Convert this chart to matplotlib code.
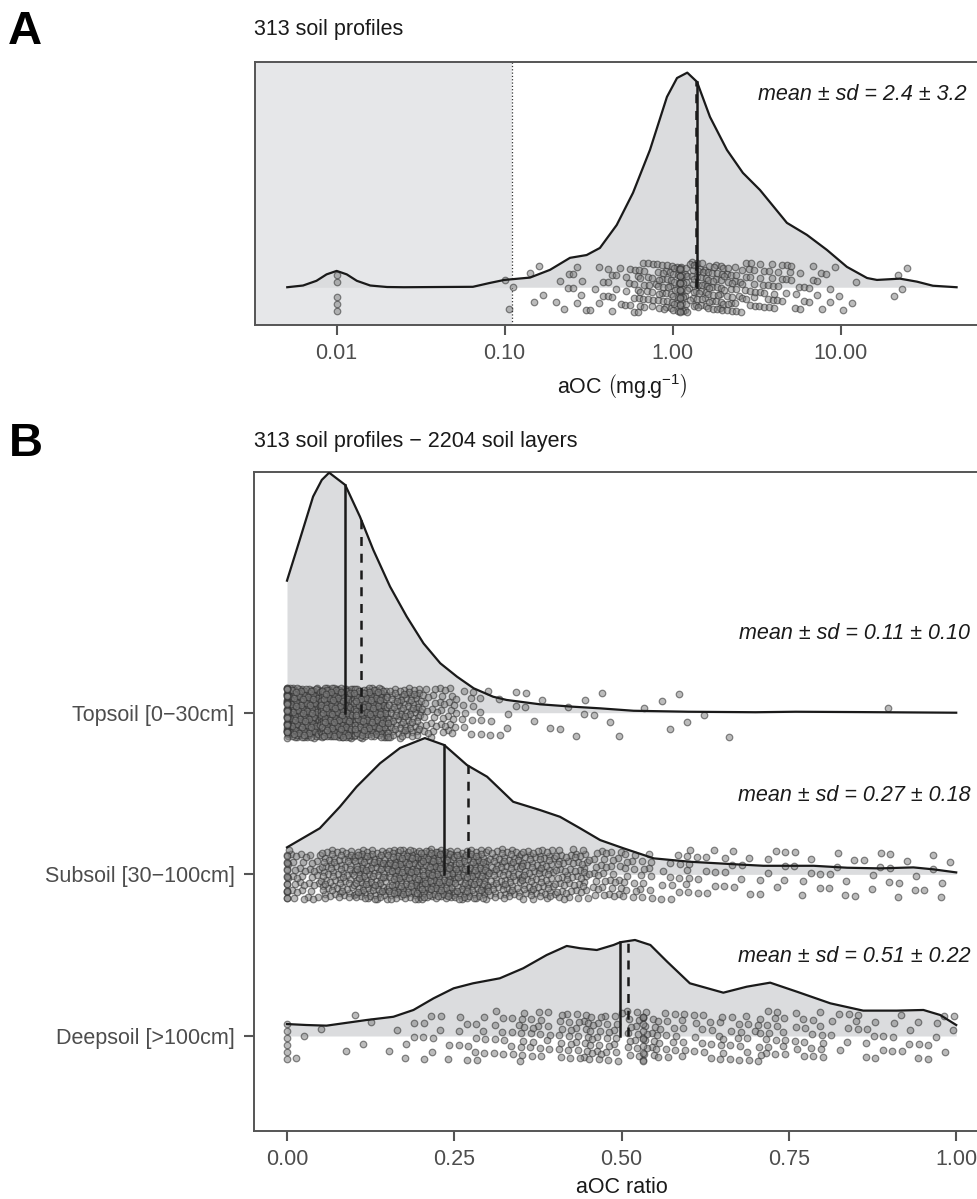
import matplotlib
matplotlib.use("Agg")
import matplotlib.pyplot as plt
import numpy as np

plt.rcParams['font.family'] = ['Liberation Sans', 'DejaVu Sans']
plt.rcParams['mathtext.fontset'] = 'custom'
plt.rcParams['mathtext.rm'] = 'Liberation Sans'
plt.rcParams['mathtext.it'] = 'Liberation Sans:italic'

# ---- panel A : aOC (log10 scale) ----
a_curve_logx = [-2.294, -2.2, -2.12, -2.06, -2.0, -1.94, -1.88, -1.8, -1.7, -1.6,
                -1.189, -1.088, -1.002, -0.849, -0.730, -0.611, -0.512, -0.433,
                -0.333, -0.236, -0.135, -0.034, 0.026, 0.087, 0.145, 0.222, 0.323,
                0.418, 0.520, 0.680, 0.799, 0.918, 1.037, 1.157, 1.216, 1.353,
                1.454, 1.549, 1.690]
a_curve_dens = [0.0, 0.008, 0.03, 0.06, 0.076, 0.06, 0.03, 0.008, 0.001, 0.0,
                0.002, 0.02, 0.034, 0.045, 0.081, 0.137, 0.150, 0.183,
                0.29, 0.44, 0.64, 0.887, 0.975, 1.0, 0.957, 0.794, 0.64,
                0.533, 0.453, 0.30, 0.244, 0.174, 0.095, 0.043, 0.034, 0.040,
                0.026, 0.007, 0.0]
a_bin_start = -1.0      # log10 of first bin edge
a_bin_width = 0.1
a_counts = [3, 2, 2, 5, 7, 6, 10, 14, 20, 28, 34, 34, 30, 24, 18, 16, 12, 9, 8, 5,
            3, 0, 0, 4]
a_ties = [0.01, 1.1]
a_tie_counts = [5, 14]
a_median = 1.39
a_center = 1.37
a_threshold = 0.11
a_label = 'mean ± sd = 2.4 ± 3.2'

# ---- panel B : aOC ratio per depth ----
groups = ['Deepsoil [>100cm]', 'Subsoil [30\u2212100cm]', 'Topsoil [0\u221230cm]']

top_x = [0.000, 0.019, 0.039, 0.052, 0.063, 0.087, 0.109, 0.129, 0.154, 0.179, 0.204,
         0.229, 0.254, 0.279, 0.308, 0.328, 0.378, 0.428, 0.468, 0.518, 0.600,
         0.700, 0.760, 0.850, 1.000]
top_h = [0.817, 1.069, 1.337, 1.44, 1.485, 1.409, 1.213, 1.007, 0.780, 0.594, 0.429,
         0.306, 0.223, 0.151, 0.099, 0.079, 0.052, 0.037, 0.027, 0.012, 0.006,
         0.003, 0.006, 0.004, 0.0]
sub_x = [0.000, 0.049, 0.079, 0.104, 0.139, 0.169, 0.206, 0.235, 0.269, 0.299, 0.338,
         0.378, 0.408, 0.438, 0.468, 0.503, 0.548, 0.602, 0.662, 0.712, 0.787,
         0.837, 0.886, 0.936, 0.966, 1.000]
sub_h = [0.167, 0.285, 0.418, 0.542, 0.687, 0.782, 0.843, 0.800, 0.676, 0.604, 0.449,
         0.398, 0.356, 0.285, 0.212, 0.161, 0.099, 0.078, 0.064, 0.053, 0.053,
         0.041, 0.037, 0.043, 0.031, 0.012]
deep_x = [0.000, 0.029, 0.059, 0.119, 0.159, 0.189, 0.219, 0.249, 0.278, 0.318, 0.353,
          0.388, 0.418, 0.438, 0.463, 0.488, 0.498, 0.520, 0.543, 0.568, 0.602,
          0.652, 0.687, 0.722, 0.762, 0.812, 0.861, 0.911, 0.951, 0.976, 1.000]
deep_h = [0.074, 0.068, 0.064, 0.099, 0.119, 0.161, 0.233, 0.295, 0.326, 0.357, 0.419,
          0.501, 0.557, 0.543, 0.532, 0.563, 0.580, 0.594, 0.563, 0.460, 0.326,
          0.268, 0.305, 0.330, 0.274, 0.202, 0.157, 0.157, 0.161, 0.130, 0.068]

b_bin_width = 0.05
top_counts = [263, 290, 180, 95, 40, 18, 8, 5, 5, 4, 1, 4, 1, 1, 0, 0, 0, 1, 0, 0]
sub_counts = [40, 70, 100, 120, 130, 110, 75, 70, 55, 35, 25, 15, 12, 10, 9, 8, 8, 6, 7, 6]
deep_counts = [2, 2, 3, 6, 10, 14, 16, 22, 28, 30, 28, 22, 16, 18, 22, 16, 10, 10, 10, 8]
top_ties, top_tie_counts = [0.0], [30]
sub_ties, sub_tie_counts = [0.0], [14]
deep_ties, deep_tie_counts = [0.0, 0.532], [6, 10]

medians = [0.498, 0.235, 0.087]
means = [0.51, 0.27, 0.11]
b_labels = ['mean ± sd = 0.51 ± 0.22', 'mean ± sd = 0.27 ± 0.18', 'mean ± sd = 0.11 ± 0.10']

FILL = '#dbdcde'
LINE = '#1a1a1a'
AXC = '#555555'
TXT = '#4d4d4d'
PT_FACE = '#858585'
PT_EDGE = '#2e2e2e'
PT_SIZE = 22
FS = 15.5
G = 1.32471795724474602596


def jitter_points(start, width, counts, ties, tie_counts, k0=0):
    # bins spread with a low-discrepancy (R2) sequence, ties stacked in a column
    xs, vs = [], []
    k = k0
    for i, n in enumerate(counts):
        for _ in range(n):
            u = (0.5 + k / G) % 1
            v = (0.5 + k / G ** 2) % 1
            xs.append(start + width * (i + u))
            vs.append(2 * v - 1)
            k += 1
    for t, n in zip(ties, tie_counts):
        for _ in range(n):
            v = (0.5 + k / G ** 2) % 1
            xs.append(t)
            vs.append(2 * v - 1)
            k += 1
    return np.array(xs), np.array(vs)


def style_axes(ax):
    for s in ax.spines.values():
        s.set_color(AXC)
        s.set_linewidth(1.4)
    ax.tick_params(length=7, width=1.5, color=AXC, labelsize=FS, labelcolor=TXT)


fig = plt.figure(figsize=(9.77, 11.99), dpi=100)

# ---------------- panel A ----------------
axA = fig.add_axes([255 / 977, 1 - 325 / 1199, (989 - 255) / 977, (325 - 61.7) / 1199])
axA.set_xscale('log')
axA.set_xlim(10 ** -2.486, 10 ** 1.883)
axA.set_ylim(-0.176, 1.051)
axA.axvspan(10 ** -2.486, a_threshold, color='#e6e7e9', lw=0, zorder=0)
axA.axvline(a_threshold, color='#333333', lw=0.9, ls=':', zorder=1)

ax_x = 10 ** np.array(a_curve_logx)
axA.fill_between(ax_x, 0, a_curve_dens, color=FILL, lw=0, zorder=1)

px, pv = jitter_points(a_bin_start, a_bin_width, a_counts,
                       list(np.log10(a_ties)), a_tie_counts)
axA.scatter(10 ** px, pv * 0.1165, s=PT_SIZE, facecolor=PT_FACE, edgecolor=PT_EDGE,
            linewidth=0.9, alpha=0.55, zorder=2)
axA.plot(ax_x, a_curve_dens, color=LINE, lw=1.6, zorder=3)

for val, ls in [(a_center, (0, (3.6, 3.1))), (a_median, '-')]:
    top = np.interp(np.log10(val), a_curve_logx, a_curve_dens)
    axA.plot([val, val], [0, top], color=LINE, lw=1.8, ls=ls, zorder=4)

axA.text(10 ** 1.752, 0.896, a_label, ha='right', va='center', style='italic',
         fontsize=FS, color=LINE)
axA.set_xticks([0.01, 0.1, 1, 10])
axA.set_xticklabels(['0.01', '0.10', '1.00', '10.00'])
axA.minorticks_off()
axA.set_yticks([])
style_axes(axA)
axA.tick_params(axis='x', pad=6)
axA.set_xlabel(r'aOC $\left(\mathrm{mg.\!\!g^{-1}}\right)$', fontsize=FS, color=LINE, labelpad=6)

# ---------------- panel B ----------------
axB = fig.add_axes([254 / 977, 1 - 1131 / 1199, (989 - 254) / 977, (1131 - 471.7) / 1199])
axB.set_xlim(-0.0493, 1.049)
axB.set_ylim(0.4123, 4.491)

curves = [(deep_x, deep_h), (sub_x, sub_h), (top_x, top_h)]
pts = [(deep_counts, deep_ties, deep_tie_counts),
       (sub_counts, sub_ties, sub_tie_counts),
       (top_counts, top_ties, top_tie_counts)]

# draw top ridge first so lower ridges sit on top
for i in [2, 1, 0]:
    base = i + 1
    cx, ch = curves[i]
    z = 10 * (3 - i)
    axB.fill_between(cx, base, base + np.array(ch), color=FILL, lw=0, zorder=z)
    cnt, ties, tcnt = pts[i]
    bx, bv = jitter_points(0.0, b_bin_width, cnt, ties, tcnt, k0=1000 * i)
    axB.scatter(bx, base + bv * 0.155, s=PT_SIZE, facecolor=PT_FACE, edgecolor=PT_EDGE,
                linewidth=0.9, alpha=0.55, zorder=z + 1)
    axB.plot(cx, base + np.array(ch), color=LINE, lw=1.6, zorder=z + 2)
    for val, ls in [(medians[i], '-'), (means[i], (0, (3.6, 3.1)))]:
        top = np.interp(val, cx, ch)
        axB.plot([val, val], [base, base + top], color=LINE, lw=1.8, ls=ls, zorder=z + 3)
    axB.text(1.021, base + 0.49, b_labels[i], ha='right', va='center', style='italic',
             fontsize=FS, color=LINE, zorder=50)

axB.set_yticks([1, 2, 3])
axB.set_yticklabels(groups)
axB.set_xticks([0, 0.25, 0.5, 0.75, 1.0])
axB.set_xticklabels(['0.00', '0.25', '0.50', '0.75', '1.00'])
style_axes(axB)
axB.tick_params(axis='y', pad=7)
axB.tick_params(axis='x', pad=6)
axB.set_xlabel('aOC ratio', fontsize=FS, color=LINE, labelpad=5)

# titles and panel letters
fig.text(254 / 977, 1 - 30 / 1199, '313 soil profiles', fontsize=FS, va='center', color=LINE)
fig.text(254 / 977, 1 - 441 / 1199, '313 soil profiles \u2212 2204 soil layers', fontsize=FS,
         va='center', color=LINE)
fig.text(8 / 977, 1 - 32 / 1199, 'A', fontsize=34, fontweight='bold', va='center')
fig.text(9 / 977, 1 - 444 / 1199, 'B', fontsize=34, fontweight='bold', va='center')

fig.savefig('out.png', dpi=100)
